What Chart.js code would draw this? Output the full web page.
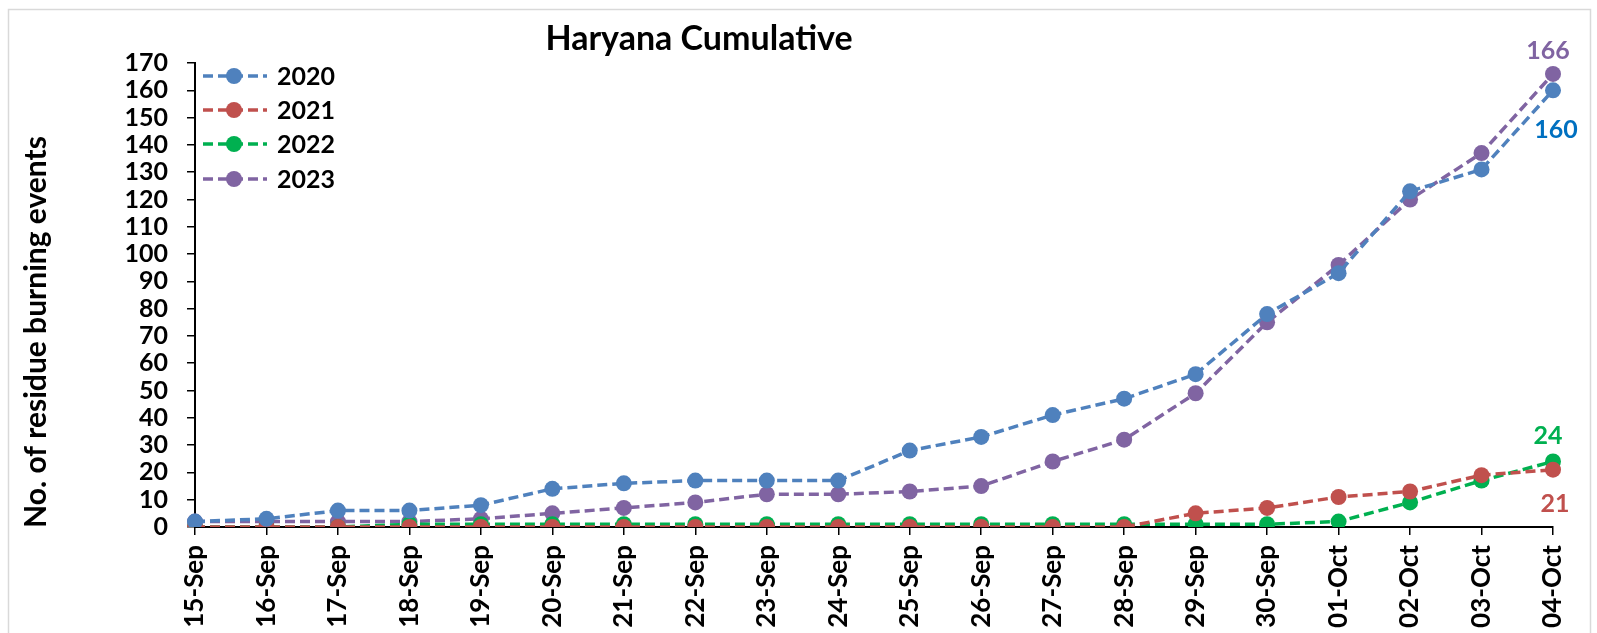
<!DOCTYPE html>
<html lang="en">
<head>
  <meta charset="UTF-8">
  <title>Haryana Cumulative</title>
  <script src="https://cdn.jsdelivr.net/npm/chart.js"></script>
  <style>
    body { margin: 0; background: #ffffff; }
    #wrap { position: relative; width: 1597px; height: 633px; }
  </style>
</head>
<body>
  <div id="wrap"><canvas id="chart" width="1597" height="633"></canvas></div>

  <script>
    // categories
    const dates = ['15-Sep','16-Sep','17-Sep','18-Sep','19-Sep','20-Sep','21-Sep','22-Sep','23-Sep','24-Sep',
                   '25-Sep','26-Sep','27-Sep','28-Sep','29-Sep','30-Sep','01-Oct','02-Oct','03-Oct','04-Oct'];

    // cumulative events per year
    const y2020 = [2, 3, 6, 6, 8, 14, 16, 17, 17, 17, 28, 33, 41, 47, 56, 78, 93, 123, 131, 160];
    const y2021 = [0, 0, 0, 0, 0, 0, 0, 0, 0, 0, 0, 0, 0, 0, 5, 7, 11, 13, 19, 21];
    const y2022 = [0, 0, 0, 1, 1, 1, 1, 1, 1, 1, 1, 1, 1, 1, 1, 1, 2, 9, 17, 24];
    const y2023 = [2, 2, 2, 2, 3, 5, 7, 9, 12, 12, 13, 15, 24, 32, 49, 75, 96, 120, 137, 166];

    const FONT = 'Lato, "Open Sans", sans-serif';
    const DASH = [10, 5];

    function series(label, data, color) {
      return {
        label: label,
        data: data,
        borderColor: color,
        backgroundColor: color,
        borderWidth: 3.5,
        borderDash: DASH,
        pointRadius: 8,
        pointHoverRadius: 8,
        pointBorderWidth: 0,
        tension: 0
      };
    }

    // end-of-line labels: [dataset index, text, colour, dx, dy]
    const endLabels = [
      [3, '166', '#8064A2', -5, -23],
      [0, '160', '#0070C0', 3, 40],
      [2, '24', '#00B050', -5, -26],
      [1, '21', '#C0504D', 2, 34]
    ];

    const extras = {
      id: 'extras',
      afterDraw(chart) {
        const ctx = chart.ctx;
        ctx.save();

        // outer frame
        ctx.strokeStyle = '#d9d9d9';
        ctx.lineWidth = 1.5;
        ctx.strokeRect(8.5, 9.5, 1582, 640);

        // title
        ctx.fillStyle = '#000';
        ctx.font = 'bold 34px ' + FONT;
        ctx.textAlign = 'center';
        ctx.textBaseline = 'middle';
        ctx.fillText('Haryana Cumulative', 699, 39);

        // y axis title
        ctx.save();
        ctx.translate(36, 332);
        ctx.rotate(-Math.PI / 2);
        ctx.font = 'bold 30px ' + FONT;
        ctx.fillText('No. of residue burning events', 0, 0);
        ctx.restore();

        // legend
        ctx.font = 'bold 25px ' + FONT;
        ctx.textAlign = 'left';
        const rows = [76, 110, 144, 179];
        chart.data.datasets.forEach((ds, i) => {
          const y = rows[i];
          ctx.strokeStyle = ds.borderColor;
          ctx.lineWidth = 3.5;
          ctx.setLineDash(DASH);
          ctx.beginPath();
          ctx.moveTo(203, y);
          ctx.lineTo(267, y);
          ctx.stroke();
          ctx.setLineDash([]);
          ctx.fillStyle = ds.borderColor;
          ctx.beginPath();
          ctx.arc(234, y, 8, 0, Math.PI * 2);
          ctx.fill();
          ctx.fillStyle = '#000';
          ctx.fillText(ds.label, 277, y + 1);
        });

        // end labels
        ctx.textAlign = 'center';
        endLabels.forEach(([di, txt, col, dx, dy]) => {
          const pt = chart.getDatasetMeta(di).data[dates.length - 1];
          ctx.fillStyle = col;
          ctx.font = 'bold 25px ' + FONT;
          ctx.fillText(txt, pt.x + dx, pt.y + dy);
        });
        ctx.restore();
      }
    };

    new Chart(document.getElementById('chart'), {
      type: 'line',
      data: {
        labels: dates,
        datasets: [
          series('2020', y2020, '#4F81BD'),
          series('2021', y2021, '#C0504D'),
          series('2022', y2022, '#00B050'),
          series('2023', y2023, '#8064A2')
        ]
      },
      options: {
        responsive: false,
        animation: false,
        layout: { padding: { top: 63, right: 44, left: 0, bottom: 0 } },
        plugins: {
          legend: { display: false },
          title: { display: false },
          tooltip: { enabled: false }
        },
        scales: {
          x: {
            offset: false,
            grid: { display: true, drawOnChartArea: false, tickLength: 8, color: '#000', lineWidth: 1.5 },
            border: { color: '#000', width: 2 },
            ticks: {
              autoSkip: false, maxRotation: 90, minRotation: 90, padding: 10,
              color: '#000', font: { family: FONT, size: 26, weight: 'bold' }
            },
            afterFit: s => { s.height = 106; }
          },
          y: {
            min: 0, max: 170,
            grid: { display: true, drawOnChartArea: false, tickLength: 8, color: '#000', lineWidth: 1.5 },
            border: { color: '#000', width: 2 },
            ticks: {
              stepSize: 10, autoSkip: false, padding: 19,
              color: '#000', font: { family: FONT, size: 25, weight: 'bold' }
            },
            afterFit: s => { s.width = 195; }
          }
        }
      },
      plugins: [extras]
    });
  </script>
</body>
</html>
